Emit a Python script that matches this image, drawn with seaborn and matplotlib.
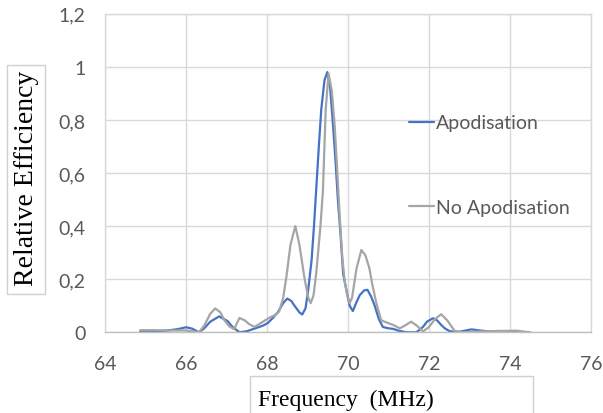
import numpy as np
import pandas as pd
import seaborn as sns
import matplotlib
matplotlib.use("Agg")
import matplotlib.pyplot as plt
from matplotlib.lines import Line2D
from matplotlib.patches import Rectangle

# ---- data ----
freq_apod = [64.87, 65.2, 65.5, 65.8, 66.0, 66.15, 66.32, 66.45, 66.6, 66.82, 67.03, 67.15,
             67.32, 67.5, 67.73, 67.9, 68.02, 68.15, 68.27, 68.4, 68.5, 68.6, 68.68, 68.8,
             68.87, 68.95, 69.01, 69.1, 69.16, 69.22, 69.28, 69.34, 69.42, 69.49, 69.56,
             69.63, 69.69, 69.75, 69.82, 69.88, 69.96, 70.04, 70.12, 70.2, 70.29, 70.4,
             70.48, 70.57, 70.66, 70.76, 70.86, 71.0, 71.11, 71.25, 71.44, 71.69, 71.85,
             71.95, 72.1, 72.2, 72.3, 72.39, 72.5, 72.67, 72.85, 73.05, 73.25, 73.5, 74.0, 74.49]
eff_apod = [0.002, 0.004, 0.006, 0.012, 0.019, 0.014, 0.0, 0.015, 0.04, 0.06, 0.042, 0.02,
            0.0, 0.004, 0.016, 0.025, 0.035, 0.055, 0.076, 0.11, 0.127, 0.118, 0.10, 0.075,
            0.067, 0.09, 0.15, 0.27, 0.40, 0.55, 0.70, 0.84, 0.95, 0.98, 0.92,
            0.78, 0.65, 0.50, 0.36, 0.22, 0.16, 0.10, 0.08, 0.11, 0.14, 0.158,
            0.16, 0.135, 0.10, 0.05, 0.02, 0.015, 0.013, 0.006, 0.0, 0.0, 0.02,
            0.04, 0.053, 0.045, 0.028, 0.015, 0.005, 0.0, 0.005, 0.011, 0.007, 0.003, 0.002, 0.0]

freq_noapod = [64.87, 65.2, 65.5, 65.8, 66.0, 66.15, 66.32, 66.45, 66.6, 66.72, 66.85, 66.95,
               67.07, 67.19, 67.32, 67.45, 67.55, 67.69, 67.85, 68.07, 68.2, 68.3, 68.4, 68.48,
               68.58, 68.7, 68.8, 68.93, 69.02, 69.08, 69.15, 69.22, 69.32, 69.38, 69.45,
               69.52, 69.6, 69.67, 69.73, 69.79, 69.86, 69.92, 69.98, 70.04, 70.1, 70.21,
               70.33, 70.43, 70.53, 70.6, 70.7, 70.82, 70.9, 71.11, 71.28, 71.4, 71.56,
               71.7, 71.85, 72.0, 72.15, 72.3, 72.45, 72.63, 72.84, 73.25, 73.66, 74.16, 74.49]
eff_noapod = [0.008, 0.008, 0.007, 0.007, 0.007, 0.004, 0.0, 0.025, 0.07, 0.09, 0.075, 0.045,
              0.022, 0.012, 0.054, 0.045, 0.032, 0.02, 0.035, 0.056, 0.065, 0.078, 0.13, 0.21,
              0.33, 0.40, 0.33, 0.20, 0.13, 0.11, 0.14, 0.23, 0.40, 0.53, 0.84,
              0.975, 0.91, 0.78, 0.62, 0.45, 0.28, 0.19, 0.14, 0.11, 0.13, 0.24,
              0.31, 0.29, 0.24, 0.18, 0.11, 0.045, 0.04, 0.028, 0.015, 0.025, 0.04,
              0.025, 0.003, 0.02, 0.05, 0.068, 0.045, 0.006, 0.0, 0.003, 0.005, 0.006, 0.0]

series_names = ["Apodisation", "No Apodisation"]
series_colors = ["#4472C4", "#A5A5A5"]
x_ticks = [64, 66, 68, 70, 72, 74, 76]
y_ticks = [0, 0.2, 0.4, 0.6, 0.8, 1.0, 1.2]
y_ticklabels = ["0", "0,2", "0,4", "0,6", "0,8", "1", "1,2"]
x_label = "Frequency  (MHz)"
y_label = "Relative Efficiency"

df = pd.concat([
    pd.DataFrame({"freq": freq_apod, "eff": eff_apod, "series": series_names[0]}),
    pd.DataFrame({"freq": freq_noapod, "eff": eff_noapod, "series": series_names[1]}),
])

sns.set_theme(style="white")
plt.rcParams["font.family"] = ["Lato", "DejaVu Sans"]

W, H = 603, 414
fig = plt.figure(figsize=(W / 100, H / 100), dpi=100)
ax = fig.add_axes([105 / W, 1 - 333.3 / H, (591 - 105) / W, (333.3 - 14.7) / H])

sns.lineplot(data=df, x="freq", y="eff", hue="series", hue_order=series_names,
             palette=series_colors, linewidth=1.6, ax=ax, legend=False, sort=False,
             estimator=None)

ax.set_xlim(64, 76)
ax.set_ylim(0, 1.2)
ax.set_xticks(x_ticks)
ax.set_yticks(y_ticks)
ax.set_yticklabels(y_ticklabels)
ax.set_xlabel("")
ax.set_ylabel("")
ax.grid(True, color="#d9d9d9", linewidth=1.0)
ax.set_axisbelow(True)
for s in ["left", "top", "right"]:
    ax.spines[s].set_color("#d9d9d9")
    ax.spines[s].set_linewidth(1.0)
ax.spines["bottom"].set_color("#bfbfbf")
ax.spines["bottom"].set_linewidth(1.0)
ax.tick_params(axis="both", length=0, labelsize=14, labelcolor="#595959")
ax.tick_params(axis="y", pad=14)
ax.tick_params(axis="x", pad=16)

# legend entries (two, far apart as in the reference)
for name, col, ypix in zip(series_names, series_colors, [124, 208.3]):
    h = Line2D([], [], color=col, linewidth=1.6)
    leg = fig.legend([h], [name], loc="center left",
                     bbox_to_anchor=(409.3 / W, 1 - ypix / H),
                     frameon=False, borderpad=0, borderaxespad=0,
                     handlelength=1.25, handletextpad=0.12,
                     prop={"family": ["Lato"], "size": 14})
    for t in leg.get_texts():
        t.set_color("#595959")

# y label box
fig.add_artist(Rectangle((7.3 / W, 1 - 295 / H), (45 - 7.3) / W, (295 - 65.7) / H,
                         transform=fig.transFigure, facecolor="white",
                         edgecolor="#d0d0d0", linewidth=1.0))
fig.text(26.5 / W, 1 - 178 / H, y_label, rotation=90, ha="center", va="center",
         family=["Liberation Serif"], fontsize=20, color="black")

# x label box
fig.add_artist(Rectangle((250 / W, -0.01), (533 - 250) / W, (414 - 376.7) / H + 0.01,
                         transform=fig.transFigure, facecolor="white",
                         edgecolor="#d0d0d0", linewidth=1.0))
fig.text(258 / W, 1 - 406 / H, x_label, ha="left", va="baseline",
         family=["Liberation Serif"], fontsize=17, color="black")

fig.savefig("out.png", dpi=100)
